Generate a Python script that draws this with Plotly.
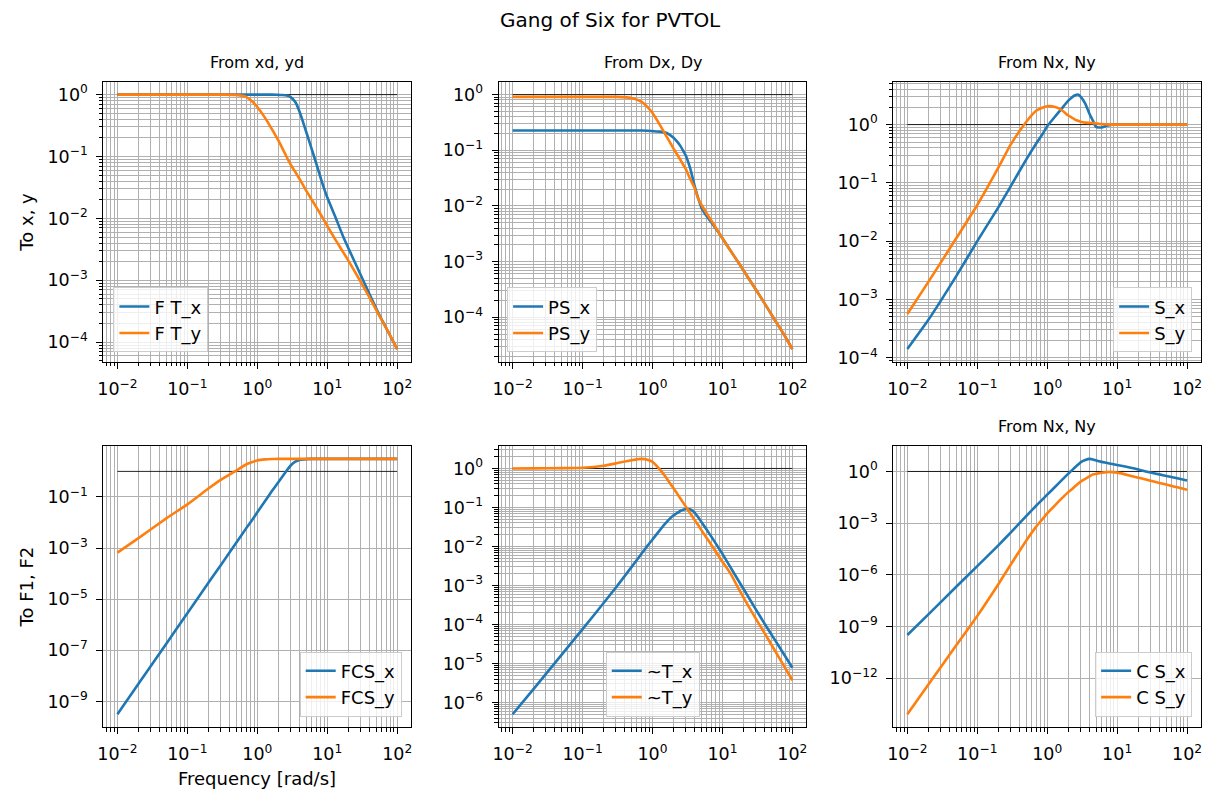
import math
import plotly.graph_objects as go

# Frequency grid [rad/s] shared by all magnitude curves
freq = [0.01, 0.02, 0.05, 0.1, 0.2, 0.3, 0.5, 0.7, 0.85, 1.0, 1.3, 1.6, 2.0, 2.25, 2.5,
        2.75, 3.0, 3.5, 4.0, 4.5, 5.0, 6.0, 7.0, 8.5, 10, 13, 17, 22, 30, 40, 55, 75, 100]

# From xd, yd  ->  To x, y
ft_x = [1.0, 1.0, 1.0, 1.0, 1.0, 1.0, 1.0, 1.0, 1.0, 1.0, 1.0, 1.0, 0.989, 0.984, 0.977,
        0.955, 0.912, 0.759, 0.537, 0.363, 0.251, 0.132, 0.0759, 0.0372, 0.0219, 0.0107,
        0.00501, 0.00263, 0.00123, 6.03e-4, 2.82e-4, 1.45e-4, 7.76e-5]
ft_y = [1.0, 1.0, 1.0, 1.0, 1.0, 1.0, 0.989, 0.912, 0.776, 0.631, 0.417, 0.282, 0.182,
        0.140, 0.110, 0.0891, 0.0741, 0.0562, 0.0437, 0.0347, 0.0282, 0.0200, 0.0151,
        0.0105, 0.00759, 0.00457, 0.00282, 0.00174, 9.55e-4, 5.37e-4, 2.75e-4, 1.45e-4,
        7.76e-5]

# From Dx, Dy  ->  To x, y
ps_x = [0.226, 0.226, 0.226, 0.226, 0.226, 0.226, 0.226, 0.226, 0.224, 0.221, 0.216,
        0.204, 0.168, 0.143, 0.120, 0.0977, 0.0794, 0.0447, 0.0229, 0.0138, 0.00933,
        0.00646, 0.00501, 0.00355, 0.00263, 0.00158, 9.55e-4, 5.75e-4, 3.16e-4, 1.78e-4,
        9.33e-5, 5.01e-5, 2.69e-5]
ps_y = [0.91, 0.91, 0.91, 0.91, 0.91, 0.91, 0.871, 0.741, 0.596, 0.468, 0.275, 0.174,
        0.107, 0.0841, 0.0676, 0.0550, 0.0457, 0.0295, 0.0209, 0.0135, 0.0105, 0.00724,
        0.00537, 0.00363, 0.00263, 0.00158, 9.55e-4, 5.75e-4, 3.16e-4, 1.78e-4, 9.33e-5,
        5.01e-5, 2.69e-5]

# From Nx, Ny  ->  To x, y
s_x = [1.41e-4, 4.47e-4, 0.00251, 0.0100, 0.0380, 0.0871, 0.251, 0.479, 0.676, 0.933,
       1.38, 1.86, 2.57, 2.92, 3.18, 3.27, 3.02, 2.29, 1.55, 1.17, 0.912, 0.891, 0.955,
       1.0, 1.0, 1.0, 1.0, 1.0, 1.0, 1.0, 1.0, 1.0, 1.0]
s_y = [5.62e-4, 0.00200, 0.0112, 0.0417, 0.182, 0.452, 1.11, 1.74, 1.95, 2.07, 2.00,
       1.78, 1.43, 1.32, 1.22, 1.16, 1.12, 1.08, 1.07, 1.06, 1.05, 1.02, 1.01, 1.0, 1.0,
       1.0, 1.0, 1.0, 1.0, 1.0, 1.0, 1.0, 1.0]

# From xd, yd  ->  To F1, F2
fcs_x = [3.16e-10, 4.90e-9, 1.82e-7, 2.82e-6, 4.37e-5, 2.14e-4, 0.00162, 0.00617,
         0.0129, 0.0251, 0.0708, 0.162, 0.380, 0.596, 0.891, 1.26, 1.70, 2.40, 2.82,
         2.95, 3.02, 3.09, 3.09, 3.09, 3.09, 3.09, 3.09, 3.09, 3.09, 3.09, 3.09, 3.09,
         3.09]
fcs_y = [6.61e-4, 0.00245, 0.0145, 0.0513, 0.214, 0.468, 1.07, 1.91, 2.32, 2.69, 2.95,
         3.05, 3.09, 3.09, 3.09, 3.09, 3.09, 3.09, 3.09, 3.09, 3.09, 3.09, 3.09, 3.09,
         3.09, 3.09, 3.09, 3.09, 3.09, 3.09, 3.09, 3.09, 3.09]

# From Dx, Dy  ->  To F1, F2
tt_x = [5.01e-7, 2.24e-6, 1.66e-5, 7.59e-5, 3.55e-4, 8.91e-4, 0.00295, 0.00661, 0.0105,
        0.0151, 0.0275, 0.0427, 0.0631, 0.0724, 0.0813, 0.0871, 0.0912, 0.0891, 0.0741,
        0.0562, 0.0427, 0.0263, 0.0174, 0.0102, 0.00646, 0.00295, 0.00132, 6.17e-4,
        2.45e-4, 1.05e-4, 4.27e-5, 1.78e-5, 7.76e-6]
tt_y = [1.0, 1.005, 1.02, 1.04, 1.17, 1.35, 1.62, 1.76, 1.68, 1.48, 0.902, 0.550, 0.309,
        0.229, 0.170, 0.133, 0.105, 0.0692, 0.0479, 0.0355, 0.0263, 0.0162, 0.0107,
        0.00631, 0.00407, 0.00204, 8.32e-4, 3.63e-4, 1.41e-4, 6.03e-5, 2.29e-5, 8.91e-6,
        3.72e-6]

# From Nx, Ny  ->  To F1, F2
cs_x = [3.16e-10, 5.01e-9, 2.00e-7, 3.16e-6, 5.13e-5, 2.82e-4, 0.00251, 0.0105, 0.0229,
        0.0447, 0.129, 0.302, 0.741, 1.16, 1.74, 2.45, 3.39, 4.57, 5.37, 5.01, 4.27, 3.59,
        3.16, 2.69, 2.34, 1.95, 1.55, 1.17, 0.871, 0.676, 0.513, 0.389, 0.302]
cs_y = [7.94e-15, 4.17e-13, 7.94e-11, 4.07e-9, 2.82e-7, 3.80e-6, 9.55e-5, 6.46e-4,
        0.00166, 0.00363, 0.0112, 0.0263, 0.0631, 0.0933, 0.138, 0.191, 0.257, 0.372,
        0.513, 0.676, 0.724, 0.832, 0.912, 0.912, 0.851, 0.676, 0.513, 0.398, 0.288,
        0.216, 0.158, 0.116, 0.0871]

# Unit reference line drawn in every panel
ref_x = [0.01, 100]
ref_y = [1.0, 1.0]

W, H = 1215, 797
BLUE, ORANGE = "#1f77b4", "#ff7f0e"
FONT = "DejaVu Sans"
TICK_SIZE = 17.5
COLS = [(98, 407.5), (495.5, 805), (892.5, 1202)]
ROWS = [(82.5, 364.5), (449.5, 732.5)]

panels = [
    dict(r=0, c=0, s=[("F T_x", ft_x), ("F T_y", ft_y)], exps=[0, -1, -2, -3, -4],
         minor=True, title="From xd, yd", leg=(108, 355, "left")),
    dict(r=0, c=1, s=[("PS_x", ps_x), ("PS_y", ps_y)], exps=[0, -1, -2, -3, -4],
         minor=True, title="From Dx, Dy", leg=(504, 355, "left")),
    dict(r=0, c=2, s=[("S_x", s_x), ("S_y", s_y)], exps=[0, -1, -2, -3, -4],
         minor=True, title="From Nx, Ny", leg=(1193, 355, "right")),
    dict(r=1, c=0, s=[("FCS_x", fcs_x), ("FCS_y", fcs_y)], exps=[-1, -3, -5, -7, -9],
         minor=False, title=None, leg=(398, 722, "right")),
    dict(r=1, c=1, s=[("~T_x", tt_x), ("~T_y", tt_y)], exps=[0, -1, -2, -3, -4, -5, -6],
         minor=True, title=None, leg=(650.5, 722, "center")),
    dict(r=1, c=2, s=[("C S_x", cs_x), ("C S_y", cs_y)], exps=[0, -3, -6, -9, -12],
         minor=False, title="From Nx, Ny", leg=(1193, 722, "right")),
]


def sup(e):
    return "10<sup>" + (str(e) if e >= 0 else "\u2212" + str(-e)) + "</sup>"


minor_vals = [m * 10.0 ** d for d in range(-16, 3) for m in range(2, 10)]
GRID = "#b0b0b0"

base_axis = dict(type="log", showline=True, linecolor="black", linewidth=1.2,
                 mirror=True, ticks="outside", ticklen=6, tickwidth=1.2,
                 tickcolor="black", showgrid=True, gridcolor=GRID, gridwidth=1.1,
                 zeroline=False, ticklabelstandoff=5,
                 tickfont=dict(family=FONT, size=TICK_SIZE, color="black"),
                 tickmode="array")
minor_on = dict(tickmode="array", tickvals=minor_vals, ticks="outside", ticklen=3.5,
                tickwidth=1, tickcolor="black", showgrid=True, gridcolor=GRID,
                gridwidth=1.1)

fig = go.Figure()
layout = dict(width=W, height=H, margin=dict(l=0, r=0, t=0, b=0),
              paper_bgcolor="white", plot_bgcolor="white",
              font=dict(family=FONT, color="black"))
annotations = []

for i, p in enumerate(panels):
    k = "" if i == 0 else str(i + 1)
    xa, ya = "x" + k, "y" + k
    lg = "legend" + k
    x0, x1 = COLS[p["c"]]
    y0, y1 = ROWS[p["r"]]

    fig.add_trace(go.Scatter(x=ref_x, y=ref_y, mode="lines", xaxis=xa, yaxis=ya,
                             line=dict(color="rgba(0,0,0,0.85)", width=1),
                             showlegend=False, hoverinfo="skip"))
    for (name, vals), color in zip(p["s"], [BLUE, ORANGE]):
        fig.add_trace(go.Scatter(x=freq, y=vals, mode="lines", name=name, xaxis=xa,
                                 yaxis=ya, legend=lg,
                                 line=dict(color=color, width=2.6, shape="spline",
                                           smoothing=0.5)))

    # log-scale limits with a 5% margin around the plotted data
    allv = [v for _, vals in p["s"] for v in vals] + ref_y
    lo, hi = math.log10(min(allv)), math.log10(max(allv))
    pad = 0.05 * (hi - lo)
    xr = [math.log10(freq[0]), math.log10(freq[-1])]
    xpad = 0.05 * (xr[1] - xr[0])

    xdecades = [-2, -1, 0, 1, 2]
    layout["xaxis" + k] = dict(base_axis, domain=[x0 / W, x1 / W], anchor=ya,
                               range=[xr[0] - xpad, xr[1] + xpad],
                               tickvals=[10.0 ** e for e in xdecades],
                               ticktext=[sup(e) for e in xdecades],
                               minor=minor_on)
    layout["yaxis" + k] = dict(base_axis, domain=[1 - y1 / H, 1 - y0 / H], anchor=xa,
                               range=[lo - pad, hi + pad],
                               tickvals=[10.0 ** e for e in p["exps"]],
                               ticktext=[sup(e) for e in p["exps"]],
                               minor=minor_on if p["minor"] else dict(ticks="", showgrid=False))

    lx, ly, anchor = p["leg"]
    layout[lg] = dict(x=lx / W, y=1 - ly / H, xanchor=anchor, yanchor="bottom",
                      bgcolor="rgba(255,255,255,0.8)", bordercolor="#cccccc",
                      borderwidth=1, font=dict(family=FONT, size=18, color="black"),
                      tracegroupgap=0)

    if p["title"]:
        annotations.append(dict(text=p["title"], x=(x0 + x1) / 2 / W, y=1 - (y0 - 8) / H,
                                xref="paper", yref="paper", xanchor="center",
                                yanchor="bottom", showarrow=False,
                                font=dict(family=FONT, size=16, color="black")))

annotations += [
    dict(text="Gang of Six for PVTOL", x=0.5, y=1 - 20 / H, xref="paper", yref="paper",
         xanchor="center", yanchor="middle", showarrow=False,
         font=dict(family=FONT, size=20, color="black")),
    dict(text="Frequency [rad/s]", x=(COLS[0][0] + COLS[0][1]) / 2 / W, y=1 - 784 / H,
         xref="paper", yref="paper", xanchor="center", yanchor="middle",
         showarrow=False, font=dict(family=FONT, size=18, color="black")),
    dict(text="To x, y", x=21 / W, y=1 - (ROWS[0][0] + ROWS[0][1]) / 2 / H,
         xref="paper", yref="paper", xanchor="center", yanchor="middle",
         textangle=-90, showarrow=False, font=dict(family=FONT, size=18, color="black")),
    dict(text="To F1, F2", x=21 / W, y=1 - (ROWS[1][0] + ROWS[1][1]) / 2 / H,
         xref="paper", yref="paper", xanchor="center", yanchor="middle",
         textangle=-90, showarrow=False, font=dict(family=FONT, size=18, color="black")),
]
layout["annotations"] = annotations
fig.update_layout(**layout)

fig.write_html("out.html")
